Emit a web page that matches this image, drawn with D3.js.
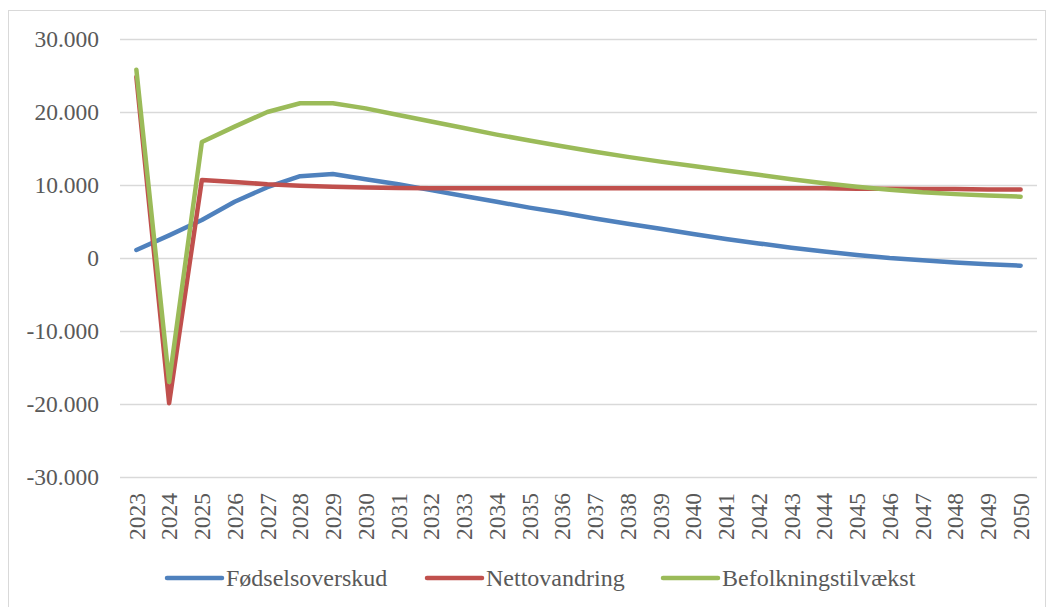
<!DOCTYPE html>
<html>
<head>
<meta charset="utf-8">
<script src="https://cdn.jsdelivr.net/npm/d3@7"></script>
<style>
  body { margin: 0; background: #fff; }
</style>
</head>
<body>
<div id="chart"></div>
<script>
const YEARS = d3.range(2023, 2051).map(String);

const FODSELSOVERSKUD = [1100, 3100, 5200, 7700, 9700, 11200, 11500, 10800, 10100, 9300,
  8500, 7700, 6900, 6200, 5400, 4700, 4000, 3300, 2600, 2000,
  1400, 900, 400, 0, -300, -600, -850, -1050];

const NETTOVANDRING = [24800, -19900, 10700, 10400, 10100, 9900, 9750, 9650, 9600, 9550,
  9550, 9550, 9550, 9550, 9550, 9550, 9550, 9550, 9550, 9550,
  9550, 9550, 9500, 9500, 9450, 9450, 9400, 9400];

const BEFOLKNINGSTILVAEKST = [25800, -17000, 15900, 18000, 20000, 21200, 21200, 20500, 19600, 18700,
  17800, 16900, 16100, 15300, 14550, 13850, 13200, 12600, 12000, 11400,
  10800, 10250, 9750, 9350, 9000, 8750, 8550, 8400];

const Y_TICKS = [-30000, -20000, -10000, 0, 10000, 20000, 30000];

const SERIES = [
  { name: 'Fødselsoverskud', values: FODSELSOVERSKUD, color: '#4F81BD' },
  { name: 'Nettovandring', values: NETTOVANDRING, color: '#C0504D' },
  { name: 'Befolkningstilvækst', values: BEFOLKNINGSTILVAEKST, color: '#9BBB59' }
];

const WIDTH = 1054, HEIGHT = 607;
const PLOT = { left: 120, right: 1037, top: 39, bottom: 477 };
const FONT = '"Liberation Serif"';
const FONT_SIZE = 23.5;
const TEXT_COLOR = '#595959';

const svg = d3.select('#chart')
  .append('svg')
  .attr('width', WIDTH)
  .attr('height', HEIGHT);

// chart frame (bottom edge falls outside the picture)
svg.append('rect')
  .attr('x', 8.5).attr('y', 10.5)
  .attr('width', 1037).attr('height', 620)
  .attr('fill', '#fff')
  .attr('stroke', '#d9d9d9');

const x = d3.scaleBand()
  .domain(YEARS)
  .range([PLOT.left, PLOT.right]);

const y = d3.scaleLinear()
  .domain([-30000, 30000])
  .range([PLOT.bottom, PLOT.top]);

const fmt = v => d3.format(',')(v).replace(/,/g, '.').replace('−', '-');

// gridlines + y labels
const yAxis = svg.append('g')
  .attr('transform', `translate(${PLOT.left},0)`)
  .call(d3.axisLeft(y).tickValues(Y_TICKS).tickSize(-(PLOT.right - PLOT.left)).tickPadding(21).tickFormat(fmt));
yAxis.select('.domain').remove();
yAxis.selectAll('line').attr('stroke', '#d9d9d9').attr('stroke-width', 1.5);
yAxis.selectAll('text')
  .attr('font-family', FONT)
  .attr('font-size', FONT_SIZE)
  .attr('fill', TEXT_COLOR);

// x labels
const xAxis = svg.append('g')
  .attr('transform', `translate(0,${PLOT.bottom})`)
  .call(d3.axisBottom(x).tickSize(0).tickPadding(0));
xAxis.select('.domain').remove();
xAxis.selectAll('text')
  .attr('font-family', FONT)
  .attr('font-size', FONT_SIZE)
  .attr('fill', TEXT_COLOR)
  .attr('transform', 'rotate(-90)')
  .attr('x', -16)
  .attr('y', 0)
  .attr('dy', '0.35em')
  .attr('text-anchor', 'end');

// lines
const line = d3.line()
  .x((d, i) => x(YEARS[i]) + x.bandwidth() / 2)
  .y(d => y(d));

svg.append('g')
  .selectAll('path')
  .data(SERIES)
  .enter().append('path')
  .attr('d', d => line(d.values))
  .attr('fill', 'none')
  .attr('stroke', d => d.color)
  .attr('stroke-width', 4.5)
  .attr('stroke-linejoin', 'round')
  .attr('stroke-linecap', 'round');

// legend
const LEGEND_X = [167, 427, 663];
const legend = svg.append('g')
  .selectAll('g')
  .data(SERIES)
  .enter().append('g')
  .attr('transform', (d, i) => `translate(${LEGEND_X[i]},578)`);

legend.append('line')
  .attr('x1', 0).attr('x2', 55)
  .attr('stroke', d => d.color)
  .attr('stroke-width', 4.5)
  .attr('stroke-linecap', 'round');

legend.append('text')
  .attr('x', 59)
  .attr('dy', '0.35em')
  .attr('font-family', FONT)
  .attr('font-size', 24)
  .attr('fill', TEXT_COLOR)
  .text(d => d.name);
</script>
</body>
</html>
